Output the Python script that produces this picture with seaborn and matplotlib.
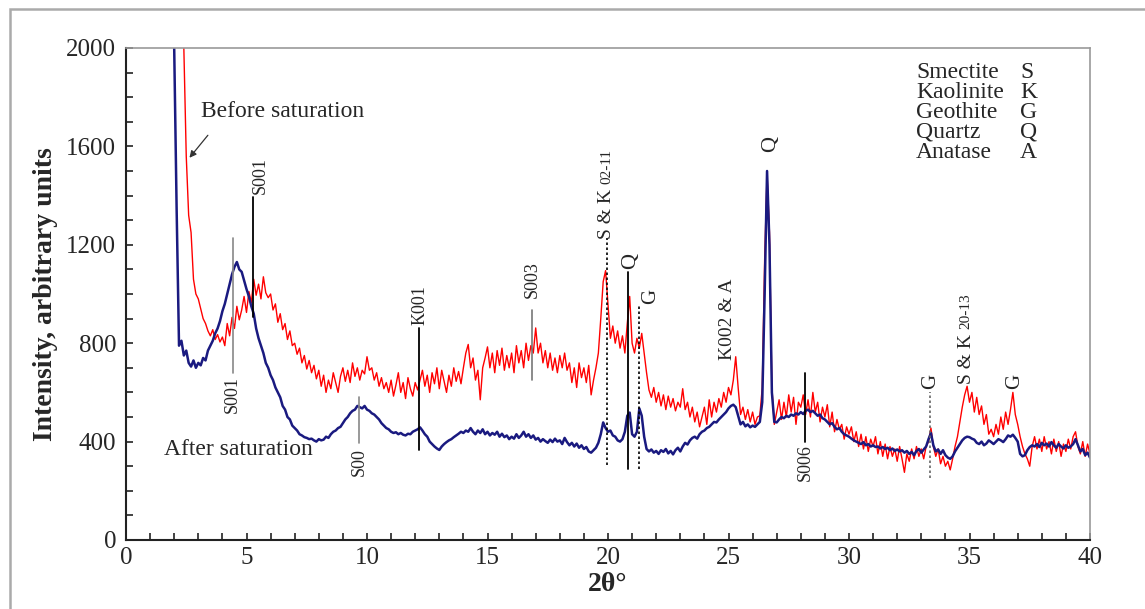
import numpy as np
import pandas as pd
import matplotlib
matplotlib.use("Agg")
import matplotlib.pyplot as plt
import matplotlib.patches as mpatches
import seaborn as sns

# 2-theta scan positions (degrees), 0.1 degree step
two_theta = np.round(np.arange(1.9, 40.05, 0.1), 1)

# Intensity before saturation (arbitrary units)
before_saturation = [
    4000,
    3600, 3200, 2800, 2400, 2000, 1560, 1320, 1250, 1060, 1000,
    980, 940, 900, 880, 850, 830, 855, 815, 835, 805,
    825, 790, 880, 830, 905, 860, 950, 895, 935, 990,
    925, 1010, 965, 1060, 995, 1040, 980, 1070, 1005, 985,
    1000, 935, 960, 885, 920, 855, 880, 815, 850, 790,
    800, 755, 780, 720, 750, 695, 730, 680, 710, 655,
    690, 625, 670, 600, 650, 615, 680, 640, 600, 665,
    700, 645, 690, 640, 720, 665, 700, 650, 690, 675,
    745, 690, 700, 650, 680, 625, 660, 615, 640, 600,
    650, 585, 630, 680, 600, 640, 575, 660, 615, 585,
    640, 610, 650, 690, 625, 670, 600, 680, 635, 700,
    615, 690, 645, 600, 670, 625, 700, 645, 685, 635,
    700, 760, 795, 700, 740, 650, 690, 570, 700, 740,
    785, 700, 760, 680, 770, 710, 780, 690, 750, 700,
    760, 680, 790, 720, 770, 700, 800, 730, 790, 760,
    862, 760, 800, 720, 770, 700, 760, 690, 740, 680,
    750, 700, 760, 690, 720, 640, 700, 620, 720, 660,
    700, 640, 710, 590, 650, 700, 760, 900, 1050, 1095,
    960, 820, 870, 800, 850, 780, 830, 760, 880, 990,
    800, 760, 820, 780, 840, 760, 680, 610, 580, 620,
    560, 600, 545, 590, 530, 585, 540, 575, 525, 560,
    540, 615, 530, 560, 500, 540, 480, 520, 460, 500,
    540, 470, 570, 500, 560, 520, 575, 540, 600, 560,
    620, 590, 650, 745, 620, 510, 540, 490, 530, 480,
    520, 470, 500, 505, 620, 1140, 1490, 1250, 620, 470,
    520, 570, 490, 560, 500, 590, 520, 580, 470, 560,
    540, 590, 510, 570, 500, 600, 520, 560, 480, 540,
    500, 550, 460, 520, 440, 490, 450, 470, 410, 460,
    430, 460, 400, 440, 380, 430, 370, 420, 360, 410,
    380, 420, 350, 400, 340, 390, 330, 380, 340, 370,
    320, 380, 330, 275, 350, 320, 370, 330, 380, 340,
    370, 330, 380, 400, 455, 380, 340, 370, 310, 340,
    300, 320, 285, 330, 380, 420, 480, 540, 590, 625,
    560, 600, 520, 580, 510, 545, 470, 510, 430, 450,
    420, 470, 430, 500, 450, 520, 470, 530, 600, 510,
    470, 420, 380, 350, 330, 300, 380, 420, 370, 410,
    360, 420, 370, 400, 350, 410, 360, 400, 340, 390,
    360, 410, 370, 420, 440, 380, 350, 400, 340, 390,
    350,
]

# Intensity after saturation (arbitrary units)
after_saturation = [
    2600,
    2000, 1350, 790, 810, 750, 770, 720, 705, 730, 700,
    720, 710, 740, 730, 770, 790, 810, 840, 860, 890,
    930, 960, 1000, 1040, 1080, 1110, 1130, 1100, 1090, 1055,
    1020, 990, 950, 920, 860, 820, 790, 760, 720, 700,
    670, 650, 620, 600, 580, 545, 530, 500, 490, 465,
    455, 445, 430, 425, 418, 415, 410, 412, 405, 400,
    410, 405, 408, 420, 415, 430, 440, 445, 455, 460,
    475, 490, 500, 515, 525, 530, 545, 540, 535, 545,
    530, 525, 515, 510, 500, 490, 475, 465, 455, 450,
    440, 435, 438, 430, 435, 428, 425, 432, 430, 440,
    445, 450, 458, 445, 430, 420, 400, 390, 380, 372,
    366, 380, 390, 398, 405, 410, 418, 425, 432, 440,
    435, 445, 440, 455, 440, 430, 445, 435, 450, 430,
    440, 425, 435, 428, 440, 420, 432, 418, 425, 410,
    420, 412, 430, 415, 425, 440, 420, 430, 415, 425,
    408, 415, 400, 410, 402, 395, 408, 398, 412, 400,
    405, 390, 415, 398, 385, 395, 380, 392, 375, 385,
    370, 378, 360, 355, 365, 375, 395, 430, 478, 455,
    440, 445, 425, 420, 405, 400, 410, 440, 505, 518,
    430, 420, 440, 535, 505, 420, 370, 360, 368, 355,
    362, 350, 365, 358, 370, 352, 362, 348, 365, 375,
    360, 380, 395, 388, 405, 415, 420, 412, 430, 440,
    445, 455, 460, 470, 480, 478, 490, 500, 510, 520,
    535, 545, 550, 540, 505, 470, 480, 462, 470, 458,
    465, 460, 470, 480, 560, 1000, 1500, 1200, 600, 480,
    478, 490, 500, 495, 505, 500, 510, 505, 515, 510,
    520, 512, 525, 530, 520, 525, 515, 505, 510, 495,
    490, 480, 470, 475, 460, 450, 455, 440, 430, 425,
    420, 412, 405, 400, 395, 390, 398, 385, 390, 380,
    385, 378, 380, 372, 378, 370, 375, 365, 372, 362,
    368, 360, 365, 355, 362, 350, 358, 345, 362, 370,
    355, 368, 380, 410, 435, 385, 360, 368, 350, 365,
    345, 335, 330, 340, 360, 375, 390, 405, 415, 420,
    418, 412, 408, 395, 390, 400, 385, 392, 405, 398,
    390, 400, 410, 405, 398, 410, 425, 420, 428, 415,
    400, 350, 340, 345, 365, 378, 385, 380, 390, 378,
    395, 385, 392, 380, 398, 385, 375, 390, 380, 372,
    385, 375, 380, 390, 410, 385, 360, 370, 345, 355,
    335,
]

# Phase legend entries
phase_names = ["Smectite", "Kaolinite", "Geothite", "Quartz", "Anatase"]
phase_codes = ["S", "K", "G", "Q", "A"]

x_ticks = [0, 5, 10, 15, 20, 25, 30, 35, 40]
y_ticks = [0, 400, 800, 1200, 1600, 2000]

assert len(before_saturation) == len(two_theta) == len(after_saturation)

sns.set_style("ticks")
plt.rcParams["font.family"] = ["Liberation Serif", "DejaVu Serif"]

RED = "#ff0000"
NAVY = "#1a1a80"
FS = 17

fig = plt.figure(figsize=(11.45, 6.09), dpi=100)
ax = fig.add_axes([126 / 1145, 1 - 540 / 609, (1090 - 126) / 1145, (540 - 48) / 609])

df = pd.DataFrame({"two_theta": two_theta,
                   "before": before_saturation,
                   "after": after_saturation})
sns.lineplot(data=df, x="two_theta", y="before", ax=ax, color=RED, lw=1.0,
             estimator=None, sort=False)
sns.lineplot(data=df, x="two_theta", y="after", ax=ax, color=NAVY, lw=1.8,
             estimator=None, sort=False)

ax.set_xlim(0, 40)
ax.set_ylim(0, 2000)
ax.set_xticks(x_ticks)
ax.set_yticks(y_ticks)
ax.set_xticks(np.arange(0, 41, 1), minor=True)
ax.set_yticks(np.arange(0, 2001, 100), minor=True)
ax.tick_params(axis="both", which="both", direction="in", length=5, width=1.2,
               labelsize=18, color="#222222", top=False, right=False)
ax.tick_params(axis="x", pad=5)
ax.tick_params(axis="y", pad=7)
for side in ("left", "bottom"):
    ax.spines[side].set_color("#222222")
    ax.spines[side].set_linewidth(1.5)
for side in ("top", "right"):
    ax.spines[side].set_visible(True)
    ax.spines[side].set_color("#9a9a9a")
    ax.spines[side].set_linewidth(1.2)

ax.set_xlabel("2θ°", fontsize=20, fontweight="bold", labelpad=2)
ax.set_ylabel("Intensity, arbitrary units", fontsize=20, fontweight="bold", labelpad=6)


def vline(x, y0, y1, style="-", color="black", lw=1.3):
    ax.plot([x, x], [y0, y1], color=color, lw=lw, linestyle=style, zorder=4)


def vtext(x, y, s, va="bottom", size=13):
    return ax.text(x, y, s, rotation=90, ha="center", va=va, fontsize=size, zorder=5)


def vtext_after(base, s, size=11):
    # continue a rotated label above the end of another one
    ax.annotate(s, xy=(0.5, 1.0), xycoords=base, xytext=(0, 3),
                textcoords="offset points", rotation=90, ha="center",
                va="bottom", fontsize=size, zorder=5)


# Curve labels
ax.text(3.1, 1740, "Before saturation", fontsize=FS, va="center", ha="left")
ax.annotate("", xy=(2.56, 1545), xytext=(3.47, 1654),
            arrowprops=dict(arrowstyle="-|>", color="#333333", lw=0.9,
                            mutation_scale=10))
ax.text(1.57, 366, "After saturation", fontsize=FS, va="center", ha="left")

# Reflection markers and labels
vline(5.25, 907, 1394)
vtext(5.55, 1405, "S001")
vline(4.42, 680, 1228, color="#888888", lw=1.2)
vtext(4.42, 665, "S001", va="top")
vline(9.68, 394, 581, color="#888888", lw=1.2)
vtext(9.68, 372, "S00", va="top")
vline(12.16, 366, 862)
vtext(12.2, 875, "K001")
vline(16.84, 650, 935, color="#777777", lw=1.2)
vtext(16.84, 985, "S003")
vline(19.94, 305, 1228, style=(0, (1.5, 1.5)), lw=1.2)
t_sk1 = vtext(19.94, 1225, "S & K", size=14)
vtext_after(t_sk1, "02-11")
vline(20.85, 289, 1089)
vtext(20.95, 1100, "Q", size=16)
vline(21.3, 289, 955, style=(0, (1.5, 1.5)), lw=1.2)
vtext(21.75, 960, "G", size=15)
vtext(24.94, 732, "K002 & A", size=14)
vtext(26.75, 1577, "Q", size=16)
vline(28.17, 398, 679)
vtext(28.17, 390, "S006", va="top")
vline(33.38, 252, 602, style=(0, (1.5, 1.5)), color="#666666", lw=1.2)
vtext(33.38, 612, "G", size=15)
t_sk2 = vtext(34.87, 636, "S & K", size=14)
vtext_after(t_sk2, "20-13")
vtext(36.86, 612, "G", size=15)

# Phase key
for i, (name, code) in enumerate(zip(phase_names, phase_codes)):
    yy = (540 - 72) / 492 - i * 20 / 492
    ax.text((916 - 126) / 964, yy, name, transform=ax.transAxes,
            fontsize=FS, va="center", ha="left")
    ax.text((1020 - 126) / 964, yy, code, transform=ax.transAxes,
            fontsize=FS, va="center", ha="left")

# Page frame
fig.patches.append(mpatches.Rectangle((10 / 1145, -0.1), 1.2, 1 - 9 / 609 + 0.1,
                                      transform=fig.transFigure, fill=False,
                                      edgecolor="#aaaaaa", lw=1.8))

fig.savefig("out.png", dpi=100)
